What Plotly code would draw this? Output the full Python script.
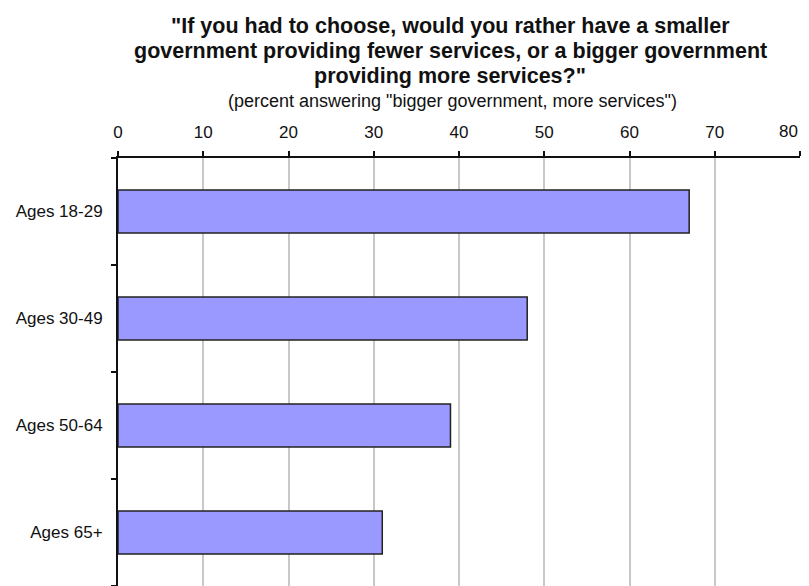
import plotly.graph_objects as go

categories = ["Ages 18-29", "Ages 30-49", "Ages 50-64", "Ages 65+"]
values = [67, 48, 39, 31]
x_ticks = [0, 10, 20, 30, 40, 50, 60, 70, 80]
x_tick_text = ["0", "10", "20", "30", "40", "50", "60", "70", "80"]

title_lines = [
    '"If you had to choose, would you rather have a smaller',
    'government providing fewer services, or a bigger government',
    'providing more services?"',
]
subtitle = '(percent answering "bigger government, more services")'

fig = go.Figure(go.Bar(
    x=values, y=categories, orientation="h",
    marker=dict(color="#9999FF", line=dict(color="#222222", width=1.5)),
    width=0.4,
))

OFF = 8  # page body margin
W, H = 801, 578
L, T = 118 - OFF, 158 - OFF
pw = 682
ph = 428
R = W - L - pw
B = H - T - ph

def px_x(x_page):
    return (x_page - OFF - L) / pw

def px_y(y_page):
    return (H - B - (y_page - OFF)) / ph

tick_font = dict(family="Liberation Sans, Arial, sans-serif", size=17, color="#111111")

ann = []
for i, line in enumerate(title_lines):
    ann.append(dict(text="<b>%s</b>" % line, x=px_x(450), y=px_y(26 + 25 * i),
                    xref="paper", yref="paper", showarrow=False,
                    xanchor="center", yanchor="middle",
                    font=dict(family="Liberation Sans, Arial, sans-serif", size=21.5, color="#111111")))
ann.append(dict(text=subtitle, x=px_x(452), y=px_y(101),
                xref="paper", yref="paper", showarrow=False,
                xanchor="center", yanchor="middle",
                font=dict(family="Liberation Sans, Arial, sans-serif", size=18, color="#111111")))
# last tick label placed as an annotation so it is not clipped at the right edge
ann.append(dict(text=x_tick_text[-1], x=x_ticks[-1], y=px_y(131),
                xref="x", yref="paper", showarrow=False,
                xanchor="right", yanchor="middle", xshift=0,
                font=tick_font))

fig.update_layout(
    width=W, height=H,
    margin=dict(l=L, r=R, t=T, b=B, pad=0, autoexpand=False),
    paper_bgcolor="white", plot_bgcolor="white",
    showlegend=False,
    annotations=ann,
    xaxis=dict(side="top", range=[0, 80], tickvals=x_ticks,
               ticktext=x_tick_text[:-1] + [""],
               showgrid=True, gridcolor="#c8c8c8", gridwidth=1.5,
               showline=True, linecolor="#111111", linewidth=2,
               ticks="outside", ticklen=5, tickcolor="#111111", tickwidth=1.5,
               ticklabelstandoff=6, automargin=False,
               tickfont=tick_font,
               zeroline=False, fixedrange=True),
    yaxis=dict(categoryorder="array", categoryarray=categories[::-1],
               autorange=False, range=[-0.5, 3.5],
               showgrid=False, showline=True, linecolor="#111111", linewidth=2,
               ticks="outside", ticklen=5, tickcolor="#111111", tickwidth=1.5,
               tickson="boundaries", ticklabelstandoff=10, automargin=False,
               tickfont=tick_font,
               zeroline=False),
)

fig.write_html("out.html")
